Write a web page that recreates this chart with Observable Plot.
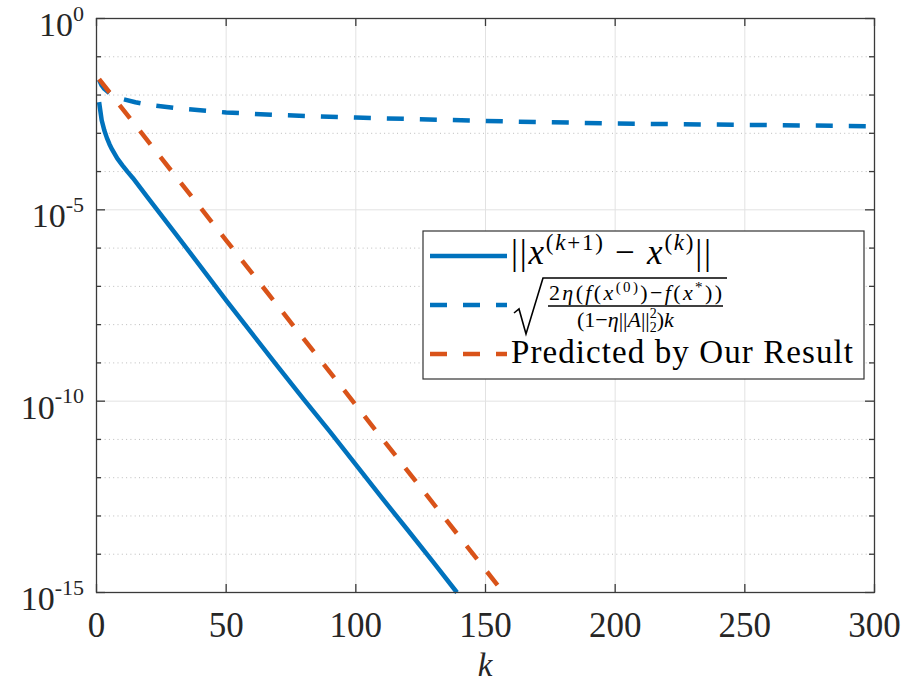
<!DOCTYPE html>
<html>
<head>
<meta charset="utf-8">
<script src="https://cdn.jsdelivr.net/npm/d3@7"></script>
<script src="https://cdn.jsdelivr.net/npm/@observablehq/plot@0.6"></script>
<style>
  body { margin: 0; background: #fff; }
  #chart { width: 904px; height: 687px; }
  svg text { font-family: "Liberation Serif", "Times New Roman", serif; }
</style>
</head>
<body>
<div id="chart"></div>
<script>
// Iteration counts and values of each series
const kStep = [1, 2, 3, 4, 5, 6, 8, 10, 12, 14, 20, 30, 40, 50, 60, 70, 80, 90, 100, 110, 120, 130, 139];
const stepNorm = [6.5e-3, 2.2e-3, 1.2e-3, 7.6e-4, 5.2e-4, 3.8e-4, 2.2e-4, 1.45e-4, 9.8e-5, 6.8e-5,
                  2.0e-5, 2.6e-6, 3.4e-7, 4.3e-8, 5.8e-9, 7.9e-10, 1.1e-10, 1.6e-11, 2.2e-12,
                  3.0e-13, 4.3e-14, 6.0e-15, 1.0e-15];

const kBound = [1, 2, 3, 5, 10, 15, 20, 30, 40, 50, 70, 100, 150, 200, 250, 300];
const sublinearBound = [2.5e-2, 1.78e-2, 1.45e-2, 1.12e-2, 7.9e-3, 6.5e-3, 5.6e-3, 4.6e-3, 4.0e-3, 3.5e-3,
                        3.0e-3, 2.57e-3, 2.1e-3, 1.8e-3, 1.66e-3, 1.53e-3];

const kPred = [1, 50, 100, 155];
const predicted = [2.6e-2, 1.6e-6, 7.9e-11, 1.45e-15];

// Axis ticks
const xTicks = [0, 50, 100, 150, 200, 250, 300];
const yMajor = [1, 1e-5, 1e-10, 1e-15];
const yMajorExp = ["0", "-5", "-10", "-15"];
const yMinor = [1e-1, 1e-2, 1e-3, 1e-4, 1e-6, 1e-7, 1e-8, 1e-9, 1e-11, 1e-12, 1e-13, 1e-14];

const seriesStep = kStep.map((k, i) => ({k, v: stepNorm[i]}));
const seriesBound = kBound.map((k, i) => ({k, v: sublinearBound[i]}));
const seriesPred = kPred.map((k, i) => ({k, v: predicted[i]}));

const BLUE = "#0072BD", ORANGE = "#D95319", AXIS = "#3a3a3a";
const W = 904, H = 687, ML = 96, MR = 30, MT = 18, MB = 95;
const FW = W - ML - MR, FH = H - MT - MB;
const DASH = "17,16";

const plot = Plot.plot({
  width: W, height: H,
  marginLeft: ML, marginRight: MR, marginTop: MT, marginBottom: MB,
  style: {background: "#fff", fontFamily: "'Liberation Serif', serif"},
  x: {domain: [0, 300], axis: null},
  y: {type: "log", domain: [1e-15, 1], axis: null},
  marks: [
    // grid
    Plot.ruleY(yMinor, {stroke: "#bcbcbc", strokeDasharray: "1,3.3", strokeWidth: 1}),
    Plot.ruleY(yMajor, {stroke: "#e2e2e2", strokeWidth: 1}),
    Plot.ruleX(xTicks, {stroke: "#e2e2e2", strokeWidth: 1}),
    // series
    Plot.line(seriesStep, {x: "k", y: "v", stroke: BLUE, strokeWidth: 4.5, strokeLinecap: "butt"}),
    Plot.line(seriesBound, {x: "k", y: "v", stroke: BLUE, strokeWidth: 4.5, strokeDasharray: DASH, strokeLinecap: "butt"}),
    Plot.line(seriesPred, {x: "k", y: "v", stroke: ORANGE, strokeWidth: 4.5, strokeDasharray: DASH, strokeLinecap: "butt"}),
    // box and inward ticks
    Plot.frame({stroke: AXIS, strokeWidth: 1.3}),
    Plot.tickX(xTicks, {x: d => d, stroke: AXIS, strokeWidth: 1.3, insetTop: FH - 8}),
    Plot.tickX(xTicks, {x: d => d, stroke: AXIS, strokeWidth: 1.3, insetBottom: FH - 8}),
    Plot.tickY(yMajor, {y: d => d, stroke: AXIS, strokeWidth: 1.3, insetRight: FW - 9}),
    Plot.tickY(yMajor, {y: d => d, stroke: AXIS, strokeWidth: 1.3, insetLeft: FW - 9}),
    Plot.tickY(yMinor, {y: d => d, stroke: AXIS, strokeWidth: 1.3, insetRight: FW - 5}),
    Plot.tickY(yMinor, {y: d => d, stroke: AXIS, strokeWidth: 1.3, insetLeft: FW - 5}),
    Plot.axisX(xTicks, {tickSize: 0, tickPadding: 20, fontSize: 35, fill: "#262626", tickFormat: d => String(d), label: null})
  ]
});
document.getElementById("chart").appendChild(plot);

const sx = plot.scale("x"), sy = plot.scale("y");
const svg = d3.select(plot);

// y tick labels: 10 with a superscript exponent
yMajor.forEach((v, i) => {
  const t = svg.append("text")
    .attr("x", ML - 12).attr("y", sy.apply(v) + 18)
    .attr("text-anchor", "end").attr("fill", "#262626");
  t.append("tspan").attr("font-size", 34).text("10");
  t.append("tspan").attr("font-size", 22).attr("dy", -15.5).text(yMajorExp[i]);
});

// x axis title
svg.append("text")
  .attr("x", (sx.apply(0) + sx.apply(300)) / 2).attr("y", 676)
  .attr("text-anchor", "middle").attr("font-size", 33).attr("font-style", "italic")
  .attr("fill", "#262626").text("k");

// legend
const lg = svg.append("g").attr("text-anchor", "start");
lg.append("rect").attr("x", 423).attr("y", 231).attr("width", 441).attr("height", 148)
  .attr("fill", "#fff").attr("stroke", "#333").attr("stroke-width", 1.2);
const rows = [
  {y: 256, stroke: BLUE, dash: null},
  {y: 305, stroke: BLUE, dash: DASH},
  {y: 354, stroke: ORANGE, dash: DASH}
];
rows.forEach(r => {
  lg.append("line").attr("x1", 430).attr("x2", 507).attr("y1", r.y).attr("y2", r.y)
    .attr("stroke", r.stroke).attr("stroke-width", 4.5)
    .attr("stroke-dasharray", r.dash).attr("stroke-linecap", "butt");
});

function run(text, parts) {
  parts.forEach(p => {
    const s = text.append("tspan").text(p.t);
    if (p.i) s.attr("font-style", "italic");
    if (p.fs) s.attr("font-size", p.fs);
    if (p.dy) s.attr("dy", p.dy);
    if (p.dx) s.attr("dx", p.dx);
  });
}

// entry 1: ||x^(k+1) − x^(k)||
const t1 = lg.append("text").attr("x", 511).attr("y", 264).attr("font-size", 35).attr("fill", "#000")
  .attr("textLength", 200).attr("lengthAdjust", "spacing");
run(t1, [
  {t: "||"}, {t: "x", i: true},
  {t: "(", fs: 23, dy: -14}, {t: "k", i: true, fs: 23}, {t: "+1)", fs: 23},
  {t: " − ", dy: 14}, {t: "x", i: true},
  {t: "(", fs: 23, dy: -14}, {t: "k", i: true, fs: 23}, {t: ")", fs: 23},
  {t: "||", dy: 14}
]);

// entry 2: sqrt of the fraction
lg.append("path")
  .attr("d", "M514,313 L519,309 L526,334 L543,278 L727,278")
  .attr("fill", "none").attr("stroke", "#000").attr("stroke-width", 1.6).attr("stroke-linejoin", "miter");
lg.append("line").attr("x1", 548).attr("x2", 723).attr("y1", 306).attr("y2", 306)
  .attr("stroke", "#000").attr("stroke-width", 1.3);
const num = lg.append("text").attr("x", 549).attr("y", 300)
  .attr("font-size", 22).attr("fill", "#000")
  .attr("textLength", 173).attr("lengthAdjust", "spacing");
run(num, [
  {t: "2"}, {t: "η", i: true}, {t: "("}, {t: "f", i: true}, {t: "("}, {t: "x", i: true},
  {t: "(0)", fs: 15, dy: -8}, {t: ")−", dy: 8}, {t: "f", i: true}, {t: "("}, {t: "x", i: true},
  {t: "*", fs: 15, dy: -8}, {t: "))", dy: 8}
]);
const den = lg.append("text").attr("x", 577).attr("y", 327)
  .attr("font-size", 22).attr("fill", "#000");
run(den, [
  {t: "(1−"}, {t: "η", i: true}, {t: "||"}, {t: "A", i: true}, {t: "||"},
  {t: "2", fs: 14, dy: -9}, {t: "2", fs: 14, dx: -7, dy: 14}, {t: ")", dy: -5}, {t: "k", i: true}
]);

// entry 3
lg.append("text").attr("x", 511).attr("y", 363).attr("font-size", 33).attr("fill", "#000")
  .attr("textLength", 342).attr("lengthAdjust", "spacing")
  .text("Predicted by Our Result");
</script>
</body>
</html>
